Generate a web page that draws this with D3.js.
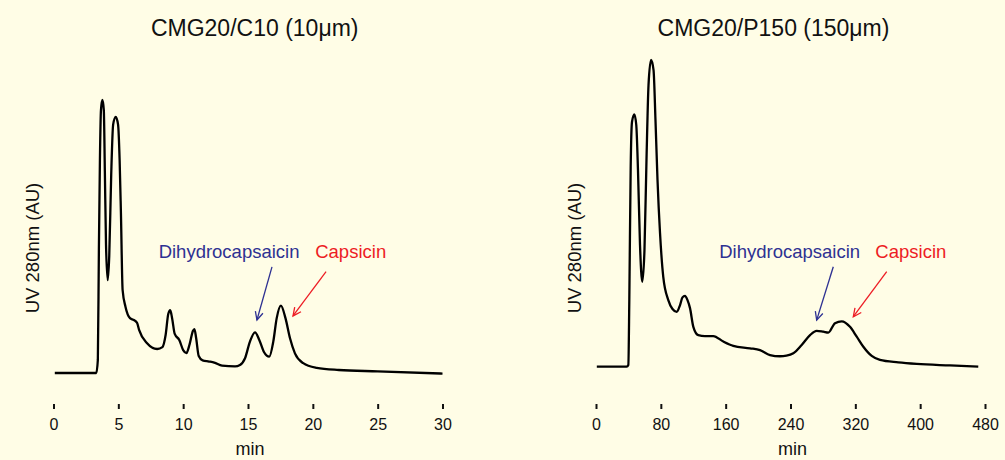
<!DOCTYPE html>
<html>
<head>
<meta charset="utf-8">
<script src="https://cdn.jsdelivr.net/npm/d3@7"></script>
<style>
  html, body { margin: 0; padding: 0; background: #fffde6; }
  svg { display: block; font-family: "Liberation Sans", Arial, sans-serif; }
</style>
</head>
<body>
<div id="chart"></div>
<script>
// C10 column (10 µm): [min, relative UV]
var c10Trace = [
  [0.1, 0], [3.3, 0], [3.42, 4.8], [3.5, 45], [3.58, 78], [3.66, 96.3], [3.77, 100],
  [3.88, 96.3], [3.96, 74], [4.05, 47], [4.18, 34], [4.3, 43], [4.45, 72.5], [4.6, 91],
  [4.8, 93.8], [4.98, 91], [5.1, 78], [5.2, 58.6], [5.33, 30.4], [5.55, 24.3], [5.9, 20.1],
  [6.2, 19.4], [6.45, 18.3], [6.6, 15.8], [7.2, 11], [8.0, 8.8], [8.4, 9.5], [8.65, 14],
  [8.85, 21.6], [9.0, 23], [9.15, 20], [9.35, 14.3], [9.7, 12.1], [10.0, 8.4], [10.25, 7.3],
  [10.5, 10.6], [10.75, 15.4], [10.87, 16.1], [11.0, 12.8], [11.2, 6.2], [11.5, 4.6],
  [12.0, 4.2], [12.4, 3.8], [13.0, 2.7], [14.0, 2.4], [14.38, 2.9], [14.77, 5.4], [15.15, 11.5],
  [15.54, 14.9], [15.87, 12.1], [16.23, 7.7], [16.64, 6], [16.95, 11.5], [17.21, 20],
  [17.54, 24.7], [17.89, 20.1], [18.24, 12.7], [18.62, 7.2], [19.26, 3.6], [20.3, 1.9],
  [22, 1.1], [25, 0.6], [30, -0.2]
];

// P150 column (150 µm)
var p150Trace = [
  [1, 0], [37.9, 0], [39.9, 0.55], [41.1, 21.7], [42.8, 65.2], [44.4, 79.8], [47.3, 82.3],
  [49.7, 78.8], [51.8, 64.1], [54.3, 39.7], [57.1, 27.7], [59.8, 38], [62.3, 67.4],
  [64.8, 91.8], [67.9, 100], [71, 96.7], [73.4, 80.4], [75.9, 60.9], [79, 43.6], [83, 29.3],
  [89.2, 21.7], [94.4, 18.8], [99.6, 17.9], [103.7, 20.1], [106.7, 22.6], [109.8, 23.1],
  [112.9, 21.7], [116, 19.1], [120.1, 13], [126.2, 10.3], [134.5, 10], [144.7, 10],
  [157.1, 8.2], [169.4, 6.8], [190, 6], [202.4, 5.4], [214.7, 3.8], [227, 3.4], [235, 3.6],
  [243.5, 4.4], [253.8, 7.1], [264.1, 10.3], [272.3, 11.7], [280.5, 11.4], [286.6, 11.1],
  [294.9, 14.2], [303.2, 14.8], [313.4, 13], [321.7, 9.8], [329.9, 6.5], [340.2, 3.5],
  [350.4, 2.2], [373, 1.4], [395.7, 0.9], [436.8, 0.4], [471.7, 0]
];

var c10Ticks = [0, 5, 10, 15, 20, 25, 30];
var p150Ticks = [0, 80, 160, 240, 320, 400, 480];

// label position [min, value], arrow tail and tip [min, value]
var c10Notes = [
  { text: "Dihydrocapsaicin", color: "#2e3192", at: [13.54, 42], from: [16.85, 38.9], to: [15.69, 19.4] },
  { text: "Capsicin", color: "#ed1c24", at: [22.92, 42], from: [21.02, 37.1], to: [18.47, 20.9] }
];
var p150Notes = [
  { text: "Dihydrocapsaicin", color: "#2e3192", at: [239, 35.3], from: [292.8, 32.6], to: [272.3, 15.2] },
  { text: "Capsicin", color: "#ed1c24", at: [388.5, 35.3], from: [358.7, 31], to: [317.5, 16.3] }
];

var width = 1005, height = 460;
var svg = d3.select("#chart").append("svg")
  .attr("width", width).attr("height", height);

svg.append("rect").attr("width", width).attr("height", height).attr("fill", "#fffde6");

function panel(opts) {
  var x = d3.scaleLinear().domain(opts.xDomain).range(opts.xRange);
  var y = d3.scaleLinear().domain([0, 100]).range(opts.yRange);
  var g = svg.append("g");

  g.append("text")
    .attr("x", opts.titleX).attr("y", 36)
    .attr("text-anchor", "middle")
    .attr("font-size", "23px")
    .attr("fill", "#111")
    .text(opts.title);

  g.append("text")
    .attr("transform", "translate(" + opts.yLabelX + ",248) rotate(-90)")
    .attr("text-anchor", "middle")
    .attr("dy", "0.35em")
    .attr("font-size", "18.5px")
    .attr("fill", "#111")
    .text("UV 280nm (AU)");

  var axis = g.append("g")
    .attr("transform", "translate(0,404)")
    .call(d3.axisBottom(x).tickValues(opts.ticks).tickSize(5).tickPadding(10).tickFormat(d3.format("d")));
  axis.select(".domain").remove();
  axis.selectAll(".tick line").attr("stroke", "#111").attr("stroke-width", 2);
  axis.selectAll(".tick text")
    .attr("font-size", "16px")
    .attr("font-family", "'Liberation Sans', Arial, sans-serif")
    .attr("fill", "#111");

  g.append("text")
    .attr("x", (opts.xRange[0] + opts.xRange[1]) / 2 + 2).attr("y", 455)
    .attr("text-anchor", "middle")
    .attr("font-size", "18px")
    .attr("fill", "#111")
    .text("min");

  var line = d3.line()
    .x(function(d){ return x(d[0]); })
    .y(function(d){ return y(d[1]); })
    .curve(d3.curveMonotoneX);

  g.append("path")
    .datum(opts.trace)
    .attr("d", line)
    .attr("fill", "none")
    .attr("stroke", "#000")
    .attr("stroke-width", 2.3)
    .attr("stroke-linejoin", "round");

  opts.notes.forEach(function(n){
    g.append("text")
      .attr("x", x(n.at[0])).attr("y", y(n.at[1]))
      .attr("text-anchor", "middle")
      .attr("font-size", "18.5px")
      .attr("fill", n.color)
      .text(n.text);

    var x1 = x(n.from[0]), y1 = y(n.from[1]), x2 = x(n.to[0]), y2 = y(n.to[1]);
    g.append("line")
      .attr("x1", x1).attr("y1", y1).attr("x2", x2).attr("y2", y2)
      .attr("stroke", n.color).attr("stroke-width", 1.3);

    // open arrow head
    var ang = Math.atan2(y2 - y1, x2 - x1), len = 9, spread = 0.45;
    var pts = [
      [x2 - len * Math.cos(ang - spread), y2 - len * Math.sin(ang - spread)],
      [x2, y2],
      [x2 - len * Math.cos(ang + spread), y2 - len * Math.sin(ang + spread)]
    ];
    g.append("path")
      .attr("d", d3.line()(pts))
      .attr("fill", "none")
      .attr("stroke", n.color).attr("stroke-width", 1.3);
  });
}

panel({
  title: "CMG20/C10 (10μm)", titleX: 254.7, yLabelX: 33,
  xDomain: [0, 30], xRange: [53.5, 442.5], yRange: [373, 100],
  ticks: c10Ticks, trace: c10Trace, notes: c10Notes
});

panel({
  title: "CMG20/P150 (150μm)", titleX: 773.5, yLabelX: 575,
  xDomain: [0, 480], xRange: [596, 985], yRange: [366.7, 60],
  ticks: p150Ticks, trace: p150Trace, notes: p150Notes
});
</script>
</body>
</html>
